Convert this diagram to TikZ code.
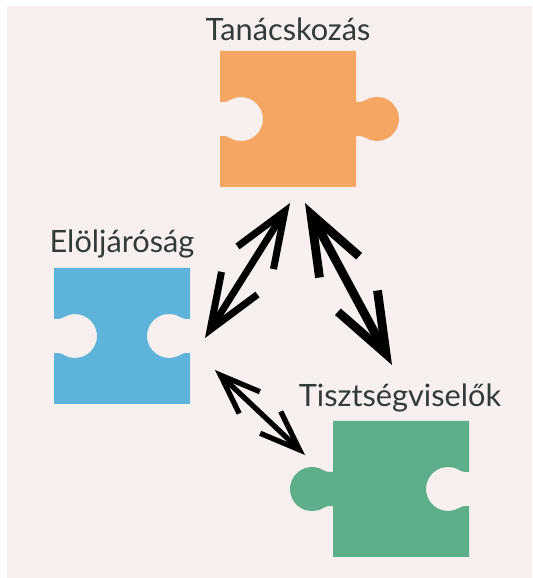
\documentclass[tikz,border=0pt]{standalone}
\usepackage{fontspec}
\setmainfont{Lato}
\usetikzlibrary{arrows.meta}

\definecolor{bg}{HTML}{F7F0EE}
\definecolor{orangepc}{HTML}{F6A663}
\definecolor{bluepc}{HTML}{5DB3D9}
\definecolor{greenpc}{HTML}{5DAF8B}
\definecolor{labeltxt}{HTML}{323B37}

% sides of a puzzle piece: right side runs upwards, left side downwards
\newcommand{\knobR}[2]{-- (#1,#2-17) .. controls (#1+3,#2-17) and (#1+5.7,#2-16.5) .. (#1+10,#2-19) arc[start angle=-120,end angle=120,radius=22] .. controls (#1+5.7,#2+16.5) and (#1+3,#2+17) .. (#1,#2+17)}
\newcommand{\notchR}[2]{-- (#1,#2-17) .. controls (#1-3,#2-17) and (#1-5.7,#2-16.5) .. (#1-10,#2-19) arc[start angle=-60,end angle=-300,radius=22] .. controls (#1-5.7,#2+16.5) and (#1-3,#2+17) .. (#1,#2+17)}
\newcommand{\knobL}[2]{-- (#1,#2+17) .. controls (#1-3,#2+17) and (#1-5.7,#2+16.5) .. (#1-10,#2+19) arc[start angle=60,end angle=300,radius=22] .. controls (#1-5.7,#2-16.5) and (#1-3,#2-17) .. (#1,#2-17)}
\newcommand{\notchL}[2]{-- (#1,#2+17) .. controls (#1+3,#2+17) and (#1+5.7,#2+16.5) .. (#1+10,#2+19) arc[start angle=120,end angle=-120,radius=22] .. controls (#1+5.7,#2-16.5) and (#1+3,#2-17) .. (#1,#2-17)}
% #1,#2 lower left corner, #3 colour, #4 left side, #5 right side
\newcommand{\piece}[5]{\fill[#3] (#1,#2) -- (#1+136,#2) #5{#1+136}{#2+68} -- (#1+136,#2+136) -- (#1,#2+136) #4{#1}{#2+68} -- cycle;}

\begin{document}
\begin{tikzpicture}[x=0.02cm,y=0.02cm,
    label/.style={font=\fontsize{17.5}{20}\selectfont,text=labeltxt,anchor=base,inner sep=0pt},
    harrow/.style={line cap=round,line join=round,black}]

\useasboundingbox (0,0) rectangle (532,578);
\fill[bg] (7,0) rectangle (532,572);

% pieces
\piece{220}{391}{orangepc}{\notchL}{\knobR}
\piece{54}{174}{bluepc}{\notchL}{\notchR}
\piece{333}{21}{greenpc}{\knobL}{\notchR}

% labels
\node[label] (tanacs) at (288,537) {Tanácskozás};
\node[label] (elolj) at (122,325) {Elöljáróság};
\node[label] (tiszt) at (400,171) {Tisztségviselők};

% arrow ends
\coordinate (tanA) at (290,375);
\coordinate (tanB) at (305,375);
\coordinate (eloA) at (205,240);
\coordinate (eloB) at (215,208);
\coordinate (tisA) at (392,213);
\coordinate (tisB) at (305,123);

\draw[harrow,line width=4pt,{Straight Barb[length=11mm,width=8.5mm]}-{Straight Barb[length=11mm,width=8.5mm]}] (tanA) -- (eloA);
\draw[harrow,line width=5pt,{Straight Barb[length=12mm,width=9mm]}-{Straight Barb[length=12mm,width=9mm]}] (tanB) -- (tisA);
\draw[harrow,line width=3pt,{Straight Barb[length=8mm,width=6mm]}-{Straight Barb[length=8mm,width=6mm]}] (eloB) -- (tisB);

\end{tikzpicture}
\end{document}
